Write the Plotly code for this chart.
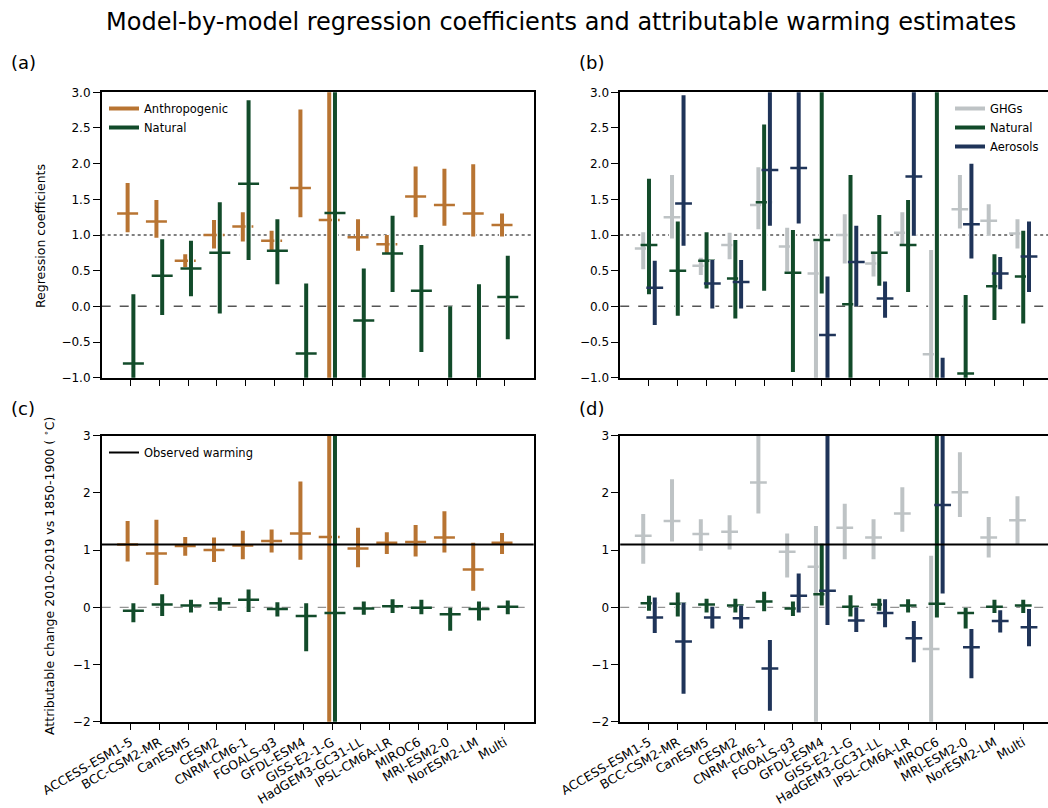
import plotly.graph_objects as go

models = ["ACCESS-ESM1-5", "BCC-CSM2-MR", "CanESM5", "CESM2", "CNRM-CM6-1",
          "FGOALS-g3", "GFDL-ESM4", "GISS-E2-1-G", "HadGEM3-GC31-LL",
          "IPSL-CM6A-LR", "MIROC6", "MRI-ESM2-0", "NorESM2-LM", "Multi"]

# ---------------- (a) regression coefficients, 2-way ----------------
a_anth_med = [1.30, 1.19, 0.64, 1.00, 1.12, 0.92, 1.66, 1.21, 0.97, 0.87, 1.54, 1.42, 1.30, 1.14]
a_anth_lo = [1.04, 0.96, 0.55, 0.81, 0.91, 0.78, 1.25, -6.0, 0.78, 0.74, 1.25, 1.13, 0.98, 0.98]
a_anth_hi = [1.73, 1.49, 0.73, 1.21, 1.32, 1.06, 2.76, 8.0, 1.22, 1.00, 1.96, 1.93, 1.99, 1.30]
a_nat_med = [-0.80, 0.43, 0.53, 0.75, 1.72, 0.78, -0.66, 1.31, -0.20, 0.74, 0.22, -1.30, -1.10, 0.13]
a_nat_lo = [-1.80, -0.12, 0.14, -0.10, 0.65, 0.31, -1.60, -6.0, -1.05, 0.20, -0.64, -2.60, -2.50, -0.46]
a_nat_hi = [0.17, 0.94, 0.92, 1.46, 2.89, 1.22, 0.32, 8.0, 0.53, 1.27, 0.86, 0.00, 0.31, 0.71]

# ---------------- (b) regression coefficients, 3-way ----------------
b_ghg_med = [0.81, 1.25, 0.57, 0.86, 1.42, 0.84, 0.46, 1.00, 0.60, 1.03, -0.67, 1.36, 1.20, 1.02]
b_ghg_lo = [0.52, 0.95, 0.44, 0.66, 1.08, 0.49, -1.30, 0.60, 0.42, 0.85, -2.10, 1.09, 0.99, 0.81]
b_ghg_hi = [1.04, 1.84, 0.68, 1.03, 1.95, 1.10, 0.91, 1.29, 0.75, 1.32, 0.79, 1.84, 1.43, 1.22]
b_nat_med = [0.86, 0.50, 0.64, 0.39, 1.46, 0.47, 0.93, 0.03, 0.75, 0.86, 3.50, -0.94, 0.28, 0.42]
b_nat_lo = [0.17, -0.13, 0.25, -0.17, 0.22, -0.92, 0.18, -1.80, 0.29, 0.20, -4.0, -2.20, -0.19, -0.24]
b_nat_hi = [1.79, 1.19, 1.04, 0.93, 2.55, 1.07, 4.00, 1.84, 1.28, 1.49, 8.0, 0.16, 0.73, 1.06]
b_aer_med = [0.26, 1.44, 0.32, 0.34, 1.91, 1.94, -0.40, 0.62, 0.11, 1.82, -1.50, 1.15, 0.46, 0.70]
b_aer_lo = [-0.26, 0.85, -0.03, -0.03, 1.13, 1.16, -1.20, 0.00, -0.16, 0.99, -2.50, 0.67, 0.24, 0.20]
b_aer_hi = [0.64, 2.96, 0.65, 0.65, 3.30, 3.30, 0.42, 1.13, 0.35, 3.20, -0.72, 2.00, 0.69, 1.19]

# ---------------- (c) attributable warming, 2-way ----------------
c_anth_med = [1.10, 0.94, 1.07, 1.00, 1.08, 1.16, 1.29, 1.23, 1.03, 1.13, 1.14, 1.22, 0.66, 1.13]
c_anth_lo = [0.80, 0.39, 0.90, 0.79, 0.84, 0.96, 0.83, -6.0, 0.70, 0.93, 0.89, 0.96, 0.29, 0.93]
c_anth_hi = [1.51, 1.53, 1.23, 1.22, 1.34, 1.36, 2.20, 8.0, 1.39, 1.31, 1.44, 1.68, 1.13, 1.30]
c_nat_med = [-0.06, 0.05, 0.03, 0.07, 0.13, -0.03, -0.15, -0.10, -0.02, 0.02, -0.01, -0.12, -0.03, 0.01]
c_nat_lo = [-0.26, -0.15, -0.09, -0.06, -0.08, -0.16, -0.77, -6.0, -0.13, -0.10, -0.12, -0.41, -0.23, -0.12]
c_nat_hi = [0.07, 0.23, 0.13, 0.17, 0.31, 0.09, 0.07, 8.0, 0.10, 0.14, 0.13, -0.01, 0.10, 0.12]

# ---------------- (d) attributable warming, 3-way ----------------
d_ghg_med = [1.25, 1.51, 1.28, 1.32, 2.18, 0.97, 0.71, 1.39, 1.22, 1.64, -0.73, 2.01, 1.22, 1.52]
d_ghg_lo = [0.76, 1.15, 0.99, 1.01, 1.64, 0.52, -2.50, 0.84, 0.84, 1.32, -2.50, 1.58, 0.87, 1.09]
d_ghg_hi = [1.63, 2.24, 1.54, 1.61, 3.30, 1.29, 1.42, 1.81, 1.54, 2.10, 0.90, 2.71, 1.58, 1.94]
d_nat_med = [0.07, 0.06, 0.05, 0.03, 0.10, -0.02, 0.23, 0.01, 0.05, 0.03, 0.06, -0.10, 0.01, 0.03]
d_nat_lo = [-0.06, -0.16, -0.09, -0.09, -0.07, -0.15, 0.03, -0.16, -0.06, -0.09, -0.18, -0.37, -0.10, -0.10]
d_nat_hi = [0.20, 0.26, 0.15, 0.15, 0.27, 0.10, 1.11, 0.21, 0.15, 0.14, 3.50, -0.01, 0.13, 0.13]
d_aer_med = [-0.18, -0.60, -0.18, -0.19, -1.07, 0.20, 0.29, -0.23, -0.10, -0.54, 1.79, -0.70, -0.24, -0.35]
d_aer_lo = [-0.45, -1.51, -0.37, -0.37, -1.81, -0.09, -0.31, -0.43, -0.35, -0.96, 0.24, -1.24, -0.44, -0.68]
d_aer_hi = [0.17, 0.08, 0.01, 0.03, -0.57, 0.59, 3.50, 0.00, 0.14, -0.24, 3.50, -0.38, -0.05, -0.03]

observed_warming = 1.1

C_ANTH = "#B87432"
C_NAT = "#124B2A"
C_AER = "#1F3459"
C_GHG = "#BEC3C5"

FONT = "DejaVu Sans"
W, H = 1048, 808

fig = go.Figure()


def add_series(xa, ya, offset, lo, hi, med, color, name, legend, msize, show):
    xs = [i + offset for i in range(len(med))]
    bx, by = [], []
    for x, l, h in zip(xs, lo, hi):
        bx += [x, x, None]
        by += [l, h, None]
    fig.add_trace(go.Scatter(x=bx, y=by, mode="lines", line=dict(color="white", width=6),
                             xaxis=xa, yaxis=ya, showlegend=False, hoverinfo="skip"))
    fig.add_trace(go.Scatter(x=bx, y=by, mode="lines", line=dict(color=color, width=4),
                             name=name, legend=legend, showlegend=show, xaxis=xa, yaxis=ya))
    fig.add_trace(go.Scatter(x=xs, y=med, mode="markers",
                             marker=dict(symbol="line-ew", size=msize, color=color,
                                         line=dict(color=color, width=2.5)),
                             xaxis=xa, yaxis=ya, showlegend=False))


# (a)
add_series("x", "y", -0.1, a_anth_lo, a_anth_hi, a_anth_med, C_ANTH, "Anthropogenic", "legend", 15, True)
add_series("x", "y", 0.1, a_nat_lo, a_nat_hi, a_nat_med, C_NAT, "Natural", "legend", 15, True)
# (b)
add_series("x2", "y2", -0.2, b_ghg_lo, b_ghg_hi, b_ghg_med, C_GHG, "GHGs", "legend2", 12, True)
add_series("x2", "y2", 0.0, b_nat_lo, b_nat_hi, b_nat_med, C_NAT, "Natural", "legend2", 12, True)
add_series("x2", "y2", 0.2, b_aer_lo, b_aer_hi, b_aer_med, C_AER, "Aerosols", "legend2", 12, True)
# (c)
add_series("x3", "y3", -0.1, c_anth_lo, c_anth_hi, c_anth_med, C_ANTH, "Anthropogenic", "legend3", 15, False)
add_series("x3", "y3", 0.1, c_nat_lo, c_nat_hi, c_nat_med, C_NAT, "Natural", "legend3", 15, False)
# (d)
add_series("x4", "y4", -0.2, d_ghg_lo, d_ghg_hi, d_ghg_med, C_GHG, "GHGs", "legend3", 12, False)
add_series("x4", "y4", 0.0, d_nat_lo, d_nat_hi, d_nat_med, C_NAT, "Natural", "legend3", 12, False)
add_series("x4", "y4", 0.2, d_aer_lo, d_aer_hi, d_aer_med, C_AER, "Aerosols", "legend3", 12, False)

# legend entry for observed warming
fig.add_trace(go.Scatter(x=[None], y=[None], mode="lines", line=dict(color="black", width=2),
                         name="Observed warming", legend="legend3", xaxis="x3", yaxis="y3"))

# reference lines
for ya in ["y", "y2"]:
    fig.add_shape(type="line", xref=ya.replace("y", "x") + " domain", x0=0, x1=1, yref=ya,
                  y0=1.0, y1=1.0, line=dict(color="black", width=1, dash="dot"), layer="below")
    fig.add_shape(type="line", xref=ya.replace("y", "x") + " domain", x0=0, x1=1, yref=ya,
                  y0=0.0, y1=0.0, line=dict(color="#555555", width=1.5, dash="dash"), layer="below")
for ya in ["y3", "y4"]:
    fig.add_shape(type="line", xref=ya.replace("y", "x") + " domain", x0=0, x1=1, yref=ya,
                  y0=0.0, y1=0.0, line=dict(color="#555555", width=0.8, dash="dash"), layer="below")
    fig.add_shape(type="line", xref=ya.replace("y", "x") + " domain", x0=0, x1=1, yref=ya,
                  y0=observed_warming, y1=observed_warming, line=dict(color="black", width=2),
                  layer="above")

axis_common = dict(showline=True, linecolor="black", linewidth=1.5, ticks="outside",
                   ticklen=7, tickwidth=1.4, tickcolor="black", showgrid=False,
                   zeroline=False, automargin=False,
                   tickfont=dict(family=FONT, size=12, color="black"))

dom_left = [101.7 / W, 533.7 / W]
dom_right = [620.2 / W, 1.0]
dom_top = [1 - 377.7 / H, 1 - 92.3 / H]
dom_bot = [1 - 721.7 / H, 1 - 435.7 / H]

xticks = list(range(len(models)))
xlab_font = dict(family=FONT, size=12.5, color="black")

fig.update_layout(
    width=W, height=H,
    margin=dict(l=0, r=0, t=0, b=0),
    paper_bgcolor="white", plot_bgcolor="white",
    font=dict(family=FONT, size=11.5, color="black"),
    xaxis=dict(axis_common, domain=dom_left, range=[-1, 14], tickvals=xticks,
               showticklabels=False, mirror=True, anchor="y"),
    yaxis=dict(axis_common, domain=dom_top, range=[-1, 3], tickvals=[-1, -0.5, 0, 0.5, 1, 1.5, 2, 2.5, 3],
               tickformat=".1f", mirror=True, anchor="x"),
    xaxis2=dict(axis_common, domain=dom_right, range=[-1, 13.86], tickvals=xticks,
                showticklabels=False, mirror=True, anchor="y2"),
    yaxis2=dict(axis_common, domain=dom_top, range=[-1, 3], tickvals=[-1, -0.5, 0, 0.5, 1, 1.5, 2, 2.5, 3],
                tickformat=".1f", mirror=False, anchor="x2"),
    xaxis3=dict(axis_common, domain=dom_left, range=[-1, 14], tickvals=xticks, ticktext=models,
                tickangle=-30, tickfont=xlab_font, mirror=True, anchor="y3"),
    yaxis3=dict(axis_common, domain=dom_bot, range=[-2, 3], tickvals=[-2, -1, 0, 1, 2, 3],
                mirror=True, anchor="x3"),
    xaxis4=dict(axis_common, domain=dom_right, range=[-1, 13.86], tickvals=xticks, ticktext=models,
                tickangle=-30, tickfont=xlab_font, mirror=True, anchor="y4"),
    yaxis4=dict(axis_common, domain=dom_bot, range=[-2, 3], tickvals=[-2, -1, 0, 1, 2, 3],
                mirror=False, anchor="x4"),
    legend=dict(x=104 / W, y=1 - 94 / H, xanchor="left", yanchor="top", bgcolor="rgba(0,0,0,0)",
                font=dict(family=FONT, size=11.5), tracegroupgap=0),
    legend2=dict(x=950 / W, y=1 - 94 / H, xanchor="left", yanchor="top", bgcolor="rgba(0,0,0,0)",
                 font=dict(family=FONT, size=11.5), tracegroupgap=0),
    legend3=dict(x=104 / W, y=1 - 438 / H, xanchor="left", yanchor="top", bgcolor="rgba(0,0,0,0)",
                 font=dict(family=FONT, size=11.5), tracegroupgap=0),
    hovermode=False,
)

annotations = [
    dict(text="Model-by-model regression coefficients and attributable warming estimates",
         x=561 / W, y=1 - 22 / H, xref="paper", yref="paper", xanchor="center", yanchor="middle",
         showarrow=False, font=dict(family=FONT, size=24, color="black")),
    dict(text="(a)", x=9 / W, y=1 - 63 / H, xref="paper", yref="paper", xanchor="left",
         yanchor="middle", showarrow=False, font=dict(family=FONT, size=18, color="black")),
    dict(text="(b)", x=577 / W, y=1 - 63 / H, xref="paper", yref="paper", xanchor="left",
         yanchor="middle", showarrow=False, font=dict(family=FONT, size=18, color="black")),
    dict(text="(c)", x=9 / W, y=1 - 408 / H, xref="paper", yref="paper", xanchor="left",
         yanchor="middle", showarrow=False, font=dict(family=FONT, size=18, color="black")),
    dict(text="(d)", x=577 / W, y=1 - 408 / H, xref="paper", yref="paper", xanchor="left",
         yanchor="middle", showarrow=False, font=dict(family=FONT, size=18, color="black")),
    dict(text="Regression coefficients", x=40 / W, y=1 - 236 / H, xref="paper", yref="paper",
         xanchor="center", yanchor="middle", textangle=-90, showarrow=False,
         font=dict(family=FONT, size=12.5, color="black")),
    dict(text="Attributable change 2010-2019 vs 1850-1900 ( <sup>∘</sup>C)", x=49 / W, y=1 - 576 / H,
         xref="paper", yref="paper", xanchor="center", yanchor="middle", textangle=-90,
         showarrow=False, font=dict(family=FONT, size=12.5, color="black")),
]
fig.update_layout(annotations=annotations)

fig.write_html("out.html", config={"displayModeBar": False},
               post_script="document.body.style.margin='0';")
